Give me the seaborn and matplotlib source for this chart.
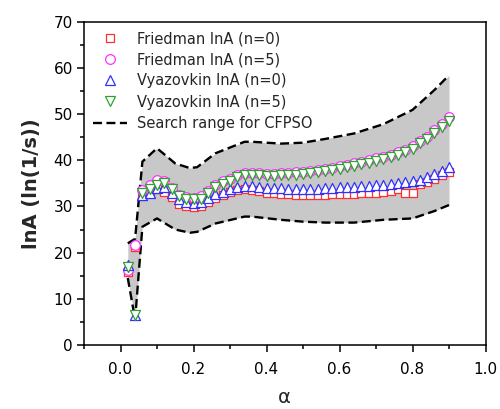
import numpy as np
import pandas as pd
import matplotlib
matplotlib.use("Agg")
import matplotlib.pyplot as plt
import seaborn as sns
from matplotlib.lines import Line2D
from matplotlib.ticker import MultipleLocator

# ---------------- data ----------------
alpha = [round(0.02 * i, 2) for i in range(1, 46)]

friedman_n0 = [15.8, 21.2, 32.2, 32.8, 33.8, 33.2, 32.0, 30.6, 30.0, 29.8,
               30.0, 31.0, 31.8, 32.5, 33.2, 33.6, 33.7, 33.6, 33.3, 33.0,
               32.8, 32.7, 32.6, 32.5, 32.5, 32.5, 32.5, 32.5, 32.6, 32.6,
               32.7, 32.7, 32.8, 32.9, 33.0, 33.2, 33.4, 33.7, 33.0, 33.0,
               34.8, 35.3, 36.0, 36.8, 37.4]
friedman_n5 = [16.3, 21.6, 33.6, 34.6, 35.7, 35.4, 34.0, 32.5, 32.0, 31.9,
               32.2, 33.4, 34.7, 35.4, 36.0, 36.9, 37.2, 37.3, 37.2, 37.1,
               37.1, 37.2, 37.3, 37.4, 37.5, 37.7, 37.9, 38.1, 38.4, 38.7,
               39.0, 39.3, 39.6, 40.0, 40.4, 40.7, 41.1, 41.7, 42.3, 43.0,
               44.2, 45.1, 46.5, 47.8, 49.4]
vyazovkin_n0 = [17.4, 6.6, 32.4, 33.0, 34.0, 34.2, 33.0, 31.6, 31.0, 30.8,
                31.0, 31.8, 32.6, 33.2, 33.8, 34.3, 34.5, 34.5, 34.3, 34.0,
                33.9, 33.9, 33.8, 33.8, 33.8, 33.8, 33.8, 33.9, 34.0, 34.1,
                34.2, 34.3, 34.4, 34.5, 34.6, 34.7, 34.8, 35.0, 35.2, 35.5,
                35.8, 36.3, 37.0, 37.6, 38.5]
vyazovkin_n5 = [16.8, 6.6, 33.0, 33.7, 34.6, 35.0, 33.8, 32.2, 31.7, 31.6,
                31.7, 32.8, 34.2, 34.8, 35.4, 36.4, 36.7, 36.8, 36.7, 36.6,
                36.6, 36.7, 36.8, 36.9, 37.0, 37.2, 37.4, 37.6, 37.9, 38.2,
                38.5, 38.8, 39.1, 39.5, 39.9, 40.2, 40.6, 41.2, 41.8, 42.5,
                43.7, 44.5, 45.9, 47.2, 48.6]

bound_alpha = [0.02, 0.04, 0.06, 0.10, 0.15, 0.19, 0.21, 0.26, 0.34, 0.36,
               0.44, 0.50, 0.56, 0.64, 0.72, 0.80, 0.86, 0.90]
bound_upper = [22.0, 23.0, 39.7, 42.6, 39.3, 38.3, 38.5, 41.5, 44.0, 44.0,
               43.6, 43.8, 44.6, 45.8, 47.8, 50.9, 55.2, 58.4]
bound_lower = [14.5, 5.5, 25.6, 27.4, 25.0, 24.3, 24.5, 26.3, 27.8, 27.8,
               27.1, 26.7, 26.5, 26.5, 27.1, 27.4, 29.0, 30.3]

labels = ["Friedman lnA (n=0)", "Friedman lnA (n=5)",
          "Vyazovkin lnA (n=0)", "Vyazovkin lnA (n=5)"]
range_label = "Search range for CFPSO"
xticks = [0.0, 0.2, 0.4, 0.6, 0.8, 1.0]
yticks = [0, 10, 20, 30, 40, 50, 60, 70]

# ---------------- style ----------------
sns.set_theme(style="ticks")
plt.rcParams['font.family'] = ['DejaVu Sans']
plt.rcParams['axes.linewidth'] = 1.1

fig = plt.figure(figsize=(5.0, 4.09), dpi=100)
ax = fig.add_axes([0.168, 0.1565, 0.803, 0.7905])

bounds = pd.DataFrame({"alpha": bound_alpha, "upper": bound_upper, "lower": bound_lower})
ax.fill_between(bounds["alpha"], bounds["lower"], bounds["upper"],
                color="#c8c8c8", lw=0, zorder=1)
dash = (0, (3.8, 1.9))
sns.lineplot(data=bounds, x="alpha", y="upper", ax=ax, color="black",
             lw=1.7, linestyle=dash, zorder=2, sort=False)
sns.lineplot(data=bounds, x="alpha", y="lower", ax=ax, color="black",
             lw=1.7, linestyle=dash, zorder=2, sort=False)

series = [friedman_n0, friedman_n5, vyazovkin_n0, vyazovkin_n5]
markers = ["s", "o", "^", "v"]
colors = ["#ff3030", "#ff30ff", "#3030ff", "#30a030"]
msize = [36, 48, 52, 52]
for i, (vals, m, c) in enumerate(zip(series, markers, colors)):
    df = pd.DataFrame({"alpha": alpha, "val": vals})
    sns.scatterplot(data=df, x="alpha", y="val", ax=ax, marker=m, s=msize[i],
                    facecolor="white", edgecolor=c, linewidth=0.9,
                    zorder=3 + i, legend=False)

ax.set_xlim(-0.1, 1.0)
ax.set_ylim(0, 70)
ax.set_xticks(xticks)
ax.set_xticklabels([f"{t:.1f}" for t in xticks])
ax.set_yticks(yticks)
ax.xaxis.set_minor_locator(MultipleLocator(0.1))
ax.yaxis.set_minor_locator(MultipleLocator(5))
ax.tick_params(axis="both", which="major", length=5, width=1.1,
               labelsize=11, color="black", labelcolor="black", pad=3)
ax.tick_params(axis="both", which="minor", length=3, width=1.1, color="black")
ax.tick_params(axis="x", pad=7)
for sp in ax.spines.values():
    sp.set_visible(True)
    sp.set_color("black")

ax.set_xlabel("α", fontsize=14, labelpad=8)
ax.set_ylabel("lnA (ln(1/s))", fontsize=14, fontweight="bold", labelpad=9)

handles = [Line2D([], [], linestyle="none", marker=m,
                  markersize=[6.0, 7.0, 7.2, 7.2][k],
                  markerfacecolor="white", markeredgecolor=c, markeredgewidth=0.9)
           for k, (m, c) in enumerate(zip(markers, colors))]
handles.append(Line2D([], [], color="black", lw=1.7, linestyle=dash))
ax.legend(handles, labels + [range_label], loc="upper left",
          bbox_to_anchor=(0.0, 1.0), frameon=False, fontsize=10.5,
          handlelength=2.3, handletextpad=0.7, labelspacing=0.42,
          borderaxespad=0.25)

fig.savefig("out.png", dpi=100)
